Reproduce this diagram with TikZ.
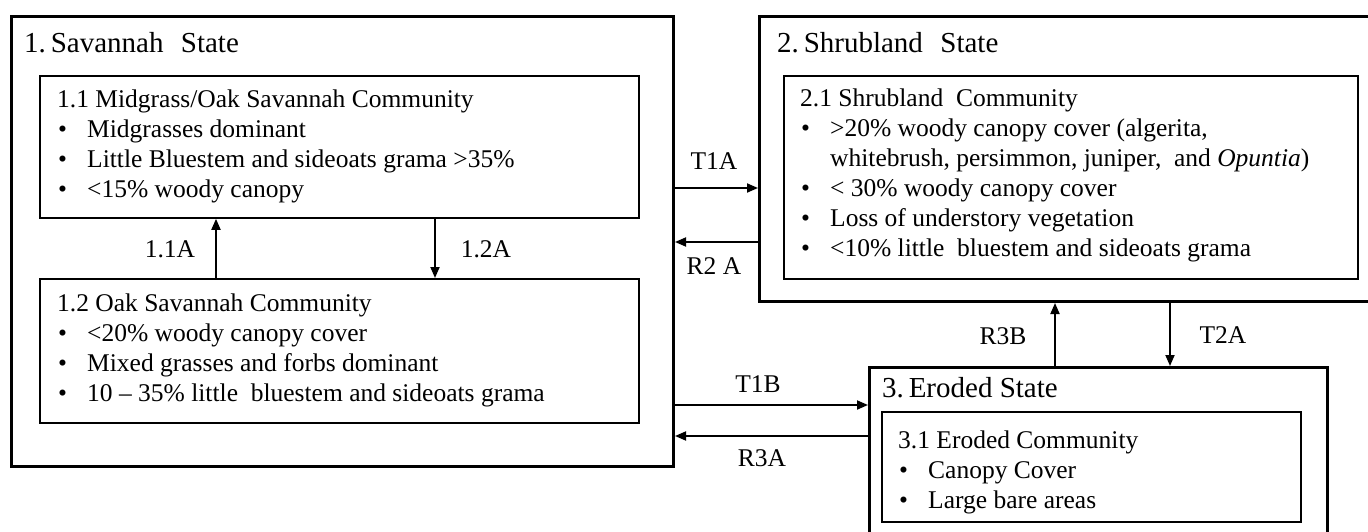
\documentclass[tikz,border=0pt]{standalone}
\usepackage{fontspec}
\setmainfont{Liberation Serif}
\usetikzlibrary{arrows.meta}
\newcommand{\bodyfont}{\fontsize{25.5}{30}\selectfont}
\newcommand{\titlefont}{\fontsize{29}{34}\selectfont}
\newcommand{\bl}{\makebox[30pt][l]{\hspace{1pt}\textbullet}}
\newcommand{\txtblock}[1]{\parbox[t]{560pt}{\raggedright\bodyfont #1}}
\begin{document}
\begin{tikzpicture}[x=1pt,y=-1pt,
  outerbox/.style={draw, line width=3pt, anchor=north west, inner sep=0pt},
  innerbox/.style={draw, line width=1.8pt, anchor=north west, inner sep=0pt},
  title/.style={anchor=base west, inner sep=0pt, font=\titlefont},
  body/.style={anchor=base west, inner sep=0pt},
  lbl/.style={anchor=center, inner sep=0pt, font=\bodyfont},
  arr/.style={line width=1.8pt, -{Triangle[length=11pt,width=9pt]}}]
\path[use as bounding box, clip] (0,0) rectangle (1368,532);
% outer state boxes
\node[outerbox, minimum width=662pt, minimum height=450pt] (s1) at (10,15) {};
\node[outerbox, minimum width=620pt, minimum height=285pt] (s2) at (758,15) {};
\node[outerbox, minimum width=458pt, minimum height=200pt] (s3) at (868,366) {};
% inner community boxes
\node[innerbox, minimum width=599pt, minimum height=142pt] (b11) at (39,75) {};
\node[innerbox, minimum width=599pt, minimum height=144pt] (b12) at (39,278) {};
\node[innerbox, minimum width=574pt, minimum height=203pt] (b21) at (783,75) {};
\node[innerbox, minimum width=419pt, minimum height=110pt] (b31) at (881,411) {};
% titles
\node[title] (t1) at (24,53) {1.\,Savannah\hspace{0.6em}State};
\node[title] (t2) at (777,53) {2.\,Shrubland\hspace{0.6em}State};
\node[title] (t3) at (882,397) {3.\,Eroded State};
% community texts
\node[body] (c11) at (57,108) {\txtblock{1.1 Midgrass/Oak Savannah Community\\
\bl Midgrasses dominant\\
\bl Little Bluestem and sideoats grama >35\%\\
\bl <15\% woody canopy}};
\node[body] (c12) at (57,311) {\txtblock{1.2 Oak Savannah Community\\
\bl <20\% woody canopy cover\\
\bl Mixed grasses and forbs dominant\\
\bl 10 – 35\% little\ \ bluestem and sideoats grama}};
\node[body] (c21) at (800,107) {\txtblock{2.1 Shrubland\ \ Community\\
\bl >20\% woody canopy cover (algerita,\\
\hspace*{30pt}whitebrush, persimmon, juniper,\ \ and \textit{Opuntia})\\
\bl < 30\% woody canopy cover\\
\bl Loss of understory vegetation\\
\bl <10\% little\ \ bluestem and sideoats grama}};
\node[body] (c31) at (898,448) {\txtblock{3.1 Eroded Community\\
\bl Canopy Cover\\
\bl Large bare areas}};
% transition coordinates
\coordinate (yT1A) at (0,188);
\coordinate (yR2A) at (0,242);
\coordinate (yT1B) at (0,405);
\coordinate (yR3A) at (0,436);
\coordinate (x11A) at (216,0);
\coordinate (x12A) at (435,0);
\coordinate (xR3B) at (1055,0);
\coordinate (xT2A) at (1170,0);
% arrows
\draw[arr] (s1.east |- yT1A) -- (s2.west |- yT1A);
\draw[arr] (s2.west |- yR2A) -- (s1.east |- yR2A);
\draw[arr] (s1.east |- yT1B) -- (s3.west |- yT1B);
\draw[arr] (s3.west |- yR3A) -- (s1.east |- yR3A);
\draw[arr] (b12.north -| x11A) -- (b11.south -| x11A);
\draw[arr] (b11.south -| x12A) -- (b12.north -| x12A);
\draw[arr] (s3.north -| xR3B) -- (s2.south -| xR3B);
\draw[arr] (s2.south -| xT2A) -- (s3.north -| xT2A);
% labels
\node[lbl] (l11A) at (170,249) {1.1A};
\node[lbl] (l12A) at (486,249) {1.2A};
\node[lbl] (lT1A) at (714,161) {T1A};
\node[lbl] (lR2A) at (714,266) {R2 A};
\node[lbl] (lT1B) at (758,384) {T1B};
\node[lbl] (lR3A) at (762,458) {R3A};
\node[lbl] (lR3B) at (1003,336) {R3B};
\node[lbl] (lT2A) at (1223,335) {T2A};
\end{tikzpicture}
\end{document}
